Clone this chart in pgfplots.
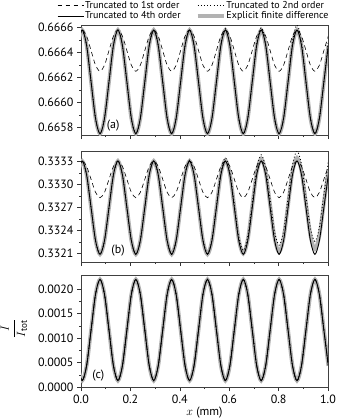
\documentclass[border=0pt]{standalone}
\usepackage{fontspec}
\setmainfont{PT Sans}
\usepackage{pgfplots}
\pgfplotsset{compat=1.18}
\usepackage{pgfplotstable}

% panel (a): 1st, 2nd, 4th order (EFD coincides with 4th)
\pgfplotstableread{
x a1 a2 a4
-0.0136 0.666532 0.666458 0.666458
0.0045 0.66658 0.66658 0.66658
0.0226 0.666532 0.666458 0.666458
0.0408 0.666415 0.666165 0.666165
0.0589 0.666298 0.665872 0.665872
0.0770 0.66625 0.66575 0.66575
0.0951 0.666298 0.665872 0.665872
0.1133 0.666415 0.666165 0.666165
0.1314 0.666532 0.666458 0.666458
0.1495 0.66658 0.66658 0.66658
0.1676 0.666532 0.666458 0.666458
0.1858 0.666415 0.666165 0.666165
0.2039 0.666298 0.665872 0.665872
0.2220 0.66625 0.66575 0.66575
0.2401 0.666298 0.665872 0.665872
0.2583 0.666415 0.666165 0.666165
0.2764 0.666532 0.666458 0.666458
0.2945 0.66658 0.66658 0.66658
0.3126 0.666532 0.666458 0.666458
0.3308 0.666415 0.666165 0.666165
0.3489 0.666298 0.665872 0.665872
0.3670 0.66625 0.66575 0.66575
0.3851 0.666298 0.665872 0.665872
0.4033 0.666415 0.666165 0.666165
0.4214 0.666532 0.666458 0.666458
0.4395 0.66658 0.66658 0.66658
0.4576 0.666532 0.666458 0.666458
0.4758 0.666415 0.666165 0.666165
0.4939 0.666298 0.665872 0.665872
0.5120 0.66625 0.66575 0.66575
0.5301 0.666298 0.665872 0.665872
0.5483 0.666415 0.666165 0.666165
0.5664 0.666532 0.666465 0.666458
0.5845 0.66658 0.66659 0.66658
0.6026 0.666532 0.666465 0.666458
0.6208 0.666415 0.666165 0.666165
0.6389 0.666298 0.665872 0.665872
0.6570 0.66625 0.66575 0.66575
0.6751 0.666298 0.665872 0.665872
0.6933 0.666415 0.666165 0.666165
0.7114 0.666532 0.666472 0.666458
0.7295 0.66658 0.66660 0.66658
0.7476 0.666532 0.666472 0.666458
0.7658 0.666415 0.666165 0.666165
0.7839 0.666298 0.665872 0.665872
0.8020 0.66625 0.66575 0.66575
0.8201 0.666298 0.665872 0.665872
0.8383 0.666415 0.666165 0.666165
0.8564 0.666532 0.666486 0.666458
0.8745 0.66658 0.66662 0.66658
0.8926 0.666532 0.666486 0.666458
0.9108 0.666415 0.666165 0.666165
0.9289 0.666298 0.665872 0.665872
0.9470 0.66625 0.66575 0.66575
0.9651 0.666298 0.665872 0.665872
0.9833 0.666415 0.666165 0.666165
1.0014 0.666532 0.666493 0.666458
}\tabA

% panel (b): 1st, 2nd, 4th order, explicit finite difference
\pgfplotstableread{
x b1 b2 b4 be
-0.0136 0.33324 0.333131 0.333131 0.333131
0.0045 0.33331 0.33331 0.33331 0.33331
0.0226 0.33324 0.333131 0.333131 0.333131
0.0408 0.33307 0.33270 0.33270 0.33270
0.0589 0.33290 0.332269 0.332269 0.332269
0.0770 0.33283 0.33209 0.33209 0.33209
0.0951 0.33290 0.332269 0.332269 0.332269
0.1133 0.33307 0.33270 0.33270 0.33270
0.1314 0.33324 0.333131 0.333131 0.333131
0.1495 0.33331 0.33331 0.33331 0.33331
0.1676 0.33324 0.333131 0.333131 0.333131
0.1858 0.33307 0.33270 0.33270 0.33270
0.2039 0.33290 0.332269 0.332269 0.332269
0.2220 0.33283 0.33209 0.33209 0.33209
0.2401 0.33290 0.332269 0.332269 0.332269
0.2583 0.33307 0.33270 0.33270 0.33270
0.2764 0.33324 0.333131 0.333131 0.333131
0.2945 0.33331 0.33331 0.33331 0.33331
0.3126 0.33324 0.333131 0.333131 0.333131
0.3308 0.33307 0.33270 0.33270 0.33270
0.3489 0.33290 0.332269 0.332269 0.332269
0.3670 0.33283 0.33209 0.33209 0.33209
0.3851 0.33290 0.332270 0.332269 0.332269
0.4033 0.33307 0.332705 0.33270 0.33270
0.4214 0.33324 0.333140 0.333131 0.333131
0.4395 0.33331 0.33332 0.33331 0.33331
0.4576 0.33324 0.333141 0.333131 0.333131
0.4758 0.33307 0.33271 0.33270 0.33270
0.4939 0.33290 0.332279 0.332269 0.332269
0.5120 0.33283 0.33210 0.33209 0.33209
0.5301 0.33290 0.332283 0.332269 0.332269
0.5483 0.33307 0.332725 0.33270 0.332705
0.5664 0.33324 0.333167 0.333131 0.333140
0.5845 0.33331 0.33335 0.33331 0.33332
0.6026 0.33324 0.333173 0.333131 0.333141
0.6208 0.33307 0.332745 0.33270 0.33271
0.6389 0.33290 0.332318 0.332269 0.332279
0.6570 0.33283 0.33214 0.33209 0.33210
0.6751 0.33290 0.332323 0.332269 0.332282
0.6933 0.33307 0.332765 0.33270 0.33272
0.7114 0.33324 0.333207 0.333131 0.333158
0.7295 0.33331 0.33339 0.33331 0.33334
0.7476 0.33324 0.333217 0.333131 0.333161
0.7658 0.33307 0.33280 0.33270 0.33273
0.7839 0.33290 0.332383 0.332269 0.332299
0.8020 0.33283 0.33221 0.33209 0.33212
0.8201 0.33290 0.332391 0.332269 0.332301
0.8383 0.33307 0.332825 0.33270 0.332735
0.8564 0.33324 0.33326 0.333131 0.33317
0.8745 0.33331 0.33344 0.33331 0.33335
0.8926 0.33324 0.333267 0.333131 0.333175
0.9108 0.33307 0.33285 0.33270 0.332755
0.9289 0.33290 0.332433 0.332269 0.332335
0.9470 0.33283 0.33226 0.33209 0.33216
0.9651 0.33290 0.332441 0.332269 0.332336
0.9833 0.33307 0.332875 0.33270 0.33276
1.0014 0.33324 0.33331 0.333131 0.333184
}\tabB

% panel (c): all four schemes coincide
\pgfplotstableread{
x c
-0.0136 0.000433
0.0045 0.00013
0.0226 0.000433
0.0408 0.001165
0.0589 0.001897
0.0770 0.0022
0.0951 0.001897
0.1133 0.001165
0.1314 0.000433
0.1495 0.00013
0.1676 0.000433
0.1858 0.001165
0.2039 0.001897
0.2220 0.0022
0.2401 0.001897
0.2583 0.001165
0.2764 0.000433
0.2945 0.00013
0.3126 0.000433
0.3308 0.001165
0.3489 0.001897
0.3670 0.0022
0.3851 0.001897
0.4033 0.001165
0.4214 0.000433
0.4395 0.00013
0.4576 0.000433
0.4758 0.001165
0.4939 0.001897
0.5120 0.0022
0.5301 0.001897
0.5483 0.001165
0.5664 0.000433
0.5845 0.00013
0.6026 0.000433
0.6208 0.001165
0.6389 0.001897
0.6570 0.0022
0.6751 0.001897
0.6933 0.001165
0.7114 0.000433
0.7295 0.00013
0.7476 0.000433
0.7658 0.001165
0.7839 0.001897
0.8020 0.0022
0.8201 0.001897
0.8383 0.001165
0.8564 0.000433
0.8745 0.00013
0.8926 0.000433
0.9108 0.001165
0.9289 0.001897
0.9470 0.0022
0.9651 0.001897
0.9833 0.001165
1.0014 0.000433
}\tabC

\tikzset{
  s1/.style={black, line width=0.6pt, dash pattern=on 4.5pt off 3.5pt},
  s2/.style={black, line width=0.9pt, dash pattern=on 0.9pt off 2.3pt},
  s4/.style={black, line width=0.9pt},
  se/.style={black!30, line width=3.8pt},
}

\pgfplotsset{
  panel/.style={
    scale only axis, width=247pt, anchor=north west,
    xmin=0, xmax=1,
    axis line style={black!75, line width=0.6pt},
    tick align=outside, xtick pos=left, ytick pos=left,
    xtick={0,0.2,0.4,0.6,0.8,1},
    minor x tick num=1, minor y tick num=1,
    major tick length=4pt, minor tick length=2pt,
    every tick/.style={black!80, line width=0.5pt},
    scaled ticks=false,
    tick label style={font=\fontsize{12}{12}\selectfont},
    /pgf/number format/assume math mode=true,
    yticklabel style={/pgf/number format/.cd, fixed, fixed zerofill, precision=4},
    xticklabel style={/pgf/number format/.cd, fixed, fixed zerofill, precision=1},
    legend image code/.code={\draw[##1] (0pt,0pt) -- (26pt,0pt);},
  },
}

\begin{document}
\begin{tikzpicture}
\path[use as bounding box] (0pt,0pt) rectangle (337pt,-420pt);

% ---------- (a)
\begin{axis}[panel, at={(81pt,-25pt)}, height=110pt,
  ymin=0.66574, ymax=0.66662,
  ytick={0.6658,0.6660,0.6662,0.6664,0.6666},
  xticklabels={},
  legend columns=2,
  legend cell align=left,
  legend style={draw=none, fill=none, at={(-0.097,1.227)}, anchor=north west,
    font=\fontsize{10}{11}\selectfont, inner sep=0pt,
    nodes={inner sep=1pt},
    /tikz/every even column/.append style={column sep=14pt}},
]
\addplot[se, smooth, forget plot] table[x=x, y=a4] {\tabA};
\addplot[s4, smooth, forget plot] table[x=x, y=a4] {\tabA};
\addplot[s2, smooth, forget plot] table[x=x, y=a2] {\tabA};
\addplot[s1, smooth, forget plot] table[x=x, y=a1] {\tabA};
\addlegendimage{s1}\addlegendentry{Truncated to 1st order}
\addlegendimage{s2}\addlegendentry{Truncated to 2nd order}
\addlegendimage{s4}\addlegendentry{Truncated to 4th order}
\addlegendimage{se}\addlegendentry{Explicit finite difference}
\node[font=\fontsize{12}{12}\selectfont] at (rel axis cs:0.13,0.09) {(a)};
\end{axis}

% ---------- (b)
\begin{axis}[panel, at={(81pt,-151pt)}, height=111pt,
  ymin=0.33199, ymax=0.33344,
  ytick={0.3321,0.3324,0.3327,0.3330,0.3333},
  xticklabels={},
]
\addplot[se, smooth] table[x=x, y=be] {\tabB};
\addplot[s4, smooth] table[x=x, y=b4] {\tabB};
\addplot[s2, smooth] table[x=x, y=b2] {\tabB};
\addplot[s1, smooth] table[x=x, y=b1] {\tabB};
\node[font=\fontsize{12}{12}\selectfont] at (rel axis cs:0.15,0.10) {(b)};
\end{axis}

% ---------- (c)
\begin{axis}[panel, at={(81pt,-275pt)}, height=112pt,
  ymin=0, ymax=0.00229,
  ytick={0,0.0005,0.001,0.0015,0.002},
  xlabel={$x$ (mm)},
  xlabel style={font=\fontsize{12}{12}\selectfont, yshift=3pt},
  clip mode=individual,
]
\addplot[se, smooth] table[x=x, y=c] {\tabC};
\addplot[s4, smooth] table[x=x, y=c] {\tabC};
\addplot[s2, smooth] table[x=x, y=c] {\tabC};
\addplot[s1, smooth] table[x=x, y=c] {\tabC};
\node[font=\fontsize{12}{12}\selectfont] at (rel axis cs:0.07,0.10) {(c)};
\node[rotate=90, inner sep=0pt, font=\fontsize{13}{13}\selectfont]
  at (rel axis cs:-0.272,0.52) {$\displaystyle\frac{I}{I_{\mathrm{tot}}}$};
\end{axis}
\end{tikzpicture}
\end{document}
